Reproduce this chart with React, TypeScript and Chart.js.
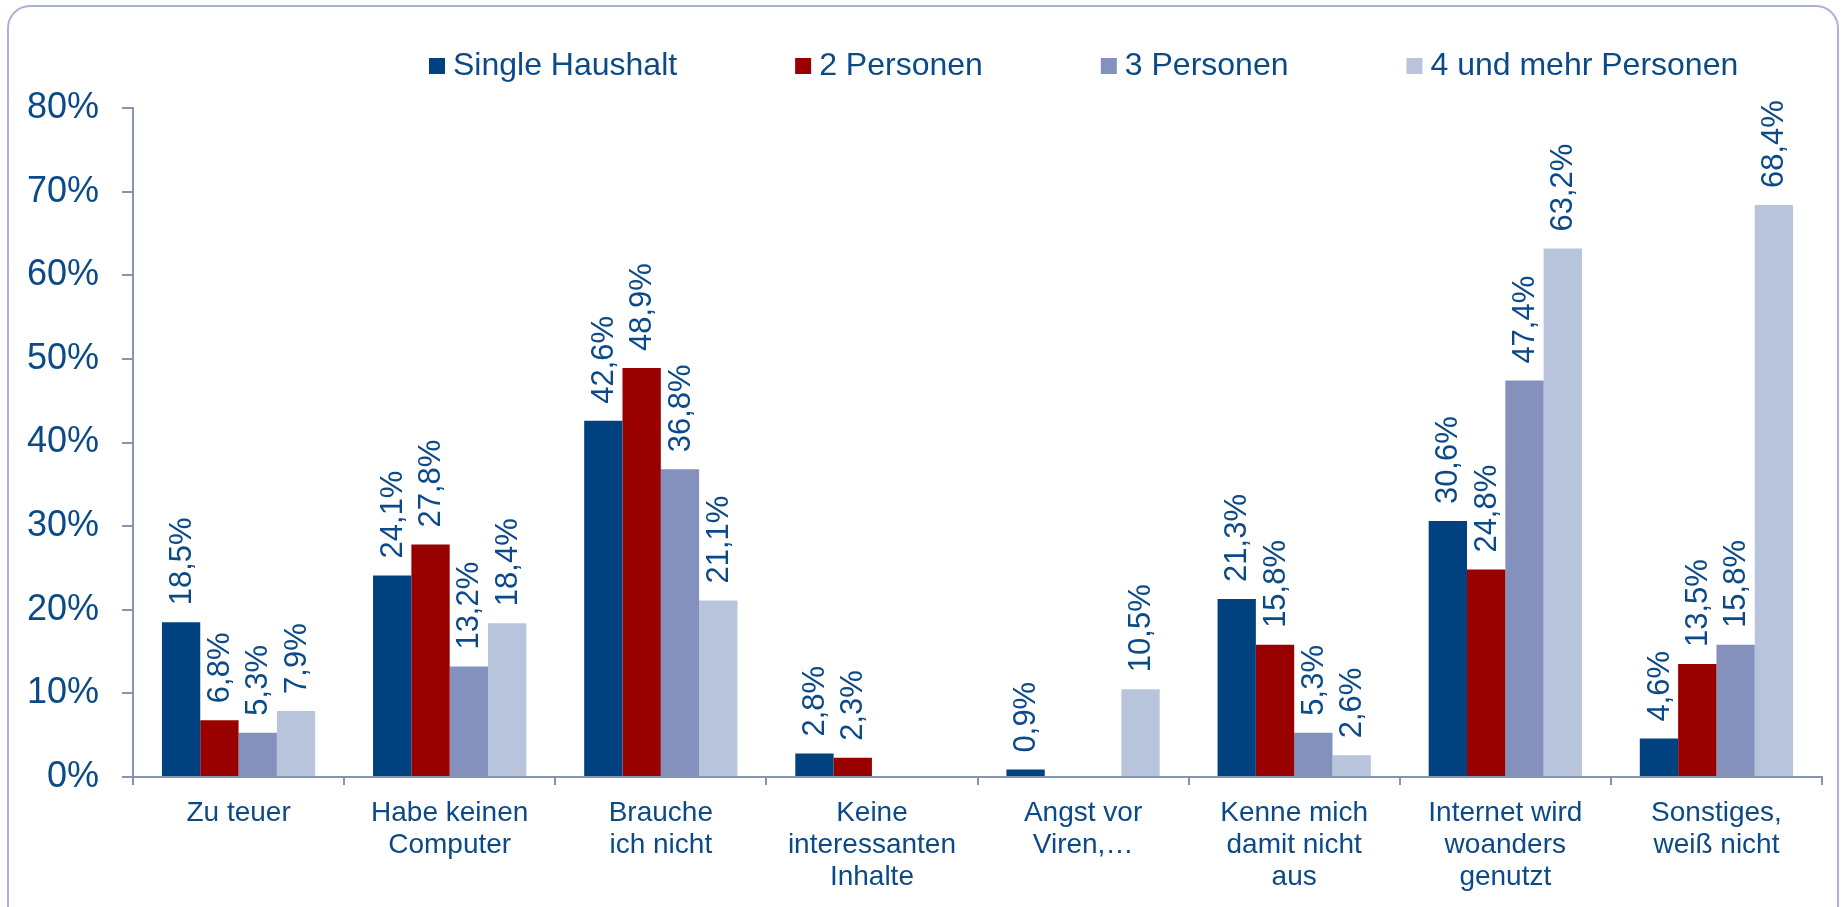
import React, { useEffect, useRef } from 'react';
import { Chart, registerables } from 'chart.js';

Chart.register(...registerables);

const categories: string[][] = [
  ['Zu teuer'],
  ['Habe keinen', 'Computer'],
  ['Brauche', 'ich nicht'],
  ['Keine', 'interessanten', 'Inhalte'],
  ['Angst vor', 'Viren,…'],
  ['Kenne mich', 'damit nicht', 'aus'],
  ['Internet wird', 'woanders', 'genutzt'],
  ['Sonstiges,', 'weiß nicht'],
];

const seriesNames = ['Single Haushalt', '2 Personen', '3 Personen', '4 und mehr Personen'];

const singleHaushalt = [18.5, 24.1, 42.6, 2.8, 0.9, 21.3, 30.6, 4.6];
const zweiPersonen = [6.8, 27.8, 48.9, 2.3, null, 15.8, 24.8, 13.5];
const dreiPersonen = [5.3, 13.2, 36.8, null, null, 5.3, 47.4, 15.8];
const vierUndMehr = [7.9, 18.4, 21.1, null, 10.5, 2.6, 63.2, 68.4];

const yTickValues = [0, 10, 20, 30, 40, 50, 60, 70, 80];

const seriesColors = ['#00427F', '#990000', '#8491BC', '#B8C3DC'];
const TEXT = '#0B4A88';
const AXIS = '#8893B2';
const FONT = '"Liberation Sans", Arial, Helvetica, sans-serif';

const fmt = (v: number) => v.toFixed(1).replace('.', ',') + '%';

const decorPlugin = {
  id: 'decor',
  beforeDraw(chart: any) {
    const ctx = chart.ctx;
    ctx.save();
    ctx.strokeStyle = '#A9B3D8';
    ctx.lineWidth = 2;
    ctx.beginPath();
    (ctx as any).roundRect(8, 6, 1830, 930, 22);
    ctx.stroke();
    ctx.restore();
  },
  afterDraw(chart: any) {
    const ctx = chart.ctx;
    ctx.save();
    // legend
    ctx.font = `32px ${FONT}`;
    ctx.textBaseline = 'middle';
    ctx.textAlign = 'left';
    let x = 429;
    const boxY = 58;
    chart.data.datasets.forEach((ds: any, i: number) => {
      ctx.fillStyle = seriesColors[i];
      ctx.fillRect(x, boxY, 16, 16);
      ctx.fillStyle = TEXT;
      ctx.fillText(ds.label, x + 24, boxY + 8);
      x += 24 + ctx.measureText(ds.label).width + 118;
    });
    // value labels
    ctx.font = `31px ${FONT}`;
    ctx.fillStyle = TEXT;
    chart.data.datasets.forEach((ds: any, i: number) => {
      const meta = chart.getDatasetMeta(i);
      meta.data.forEach((bar: any, j: number) => {
        const v = ds.data[j];
        if (v === null || v === undefined) return;
        ctx.save();
        ctx.translate(bar.x, bar.y - 17);
        ctx.rotate(-Math.PI / 2);
        ctx.textAlign = 'left';
        ctx.textBaseline = 'middle';
        ctx.fillText(fmt(v), 0, 1);
        ctx.restore();
      });
    });
    ctx.restore();
  },
};

export default function App() {
  const ref = useRef<HTMLCanvasElement | null>(null);

  useEffect(() => {
    if (!ref.current) return;
    const allSeries = [singleHaushalt, zweiPersonen, dreiPersonen, vierUndMehr];
    const chart = new Chart(ref.current, {
      type: 'bar',
      data: {
        labels: categories as any,
        datasets: allSeries.map((d, i) => ({
          label: seriesNames[i],
          data: d as any,
          backgroundColor: seriesColors[i],
          borderWidth: 0,
          categoryPercentage: 0.726,
          barPercentage: 1,
        })),
      },
      options: {
        animation: false,
        responsive: false,
        maintainAspectRatio: false,
        layout: { padding: { left: 0, right: 23, top: 108, bottom: 0 } },
        plugins: {
          legend: { display: false },
          tooltip: { enabled: false },
        },
        scales: {
          x: {
            grid: {
              display: true,
              drawOnChartArea: false,
              drawTicks: true,
              tickLength: 8,
              color: AXIS,
              lineWidth: 2,
              offset: true,
            },
            border: { display: true, color: AXIS, width: 2 },
            ticks: {
              color: TEXT,
              font: { family: FONT, size: 28, lineHeight: 1.14 },
              padding: 12,
              maxRotation: 0,
              minRotation: 0,
              autoSkip: false,
            },
            afterFit: (s: any) => { s.height = 130; },
          },
          y: {
            min: 0,
            max: 80,
            afterBuildTicks: (s: any) => { s.ticks = yTickValues.map((v) => ({ value: v })); },
            grid: {
              display: true,
              drawOnChartArea: false,
              drawTicks: true,
              tickLength: 11,
              color: AXIS,
              lineWidth: 2,
            },
            border: { display: true, color: AXIS, width: 2 },
            ticks: {
              color: TEXT,
              font: { family: FONT, size: 36 },
              padding: 23,
              callback: (v: any) => v + '%',
            },
            afterFit: (s: any) => { s.width = 133; },
          },
        },
      },
      plugins: [decorPlugin],
    });
    return () => chart.destroy();
  }, []);

  return (
    <div style={{ position: 'fixed', left: 0, top: 0, width: 1845, height: 907, background: '#fff' }}>
      <canvas ref={ref} width={1845} height={907} style={{ display: 'block', width: 1845, height: 907 }} />
    </div>
  );
}
